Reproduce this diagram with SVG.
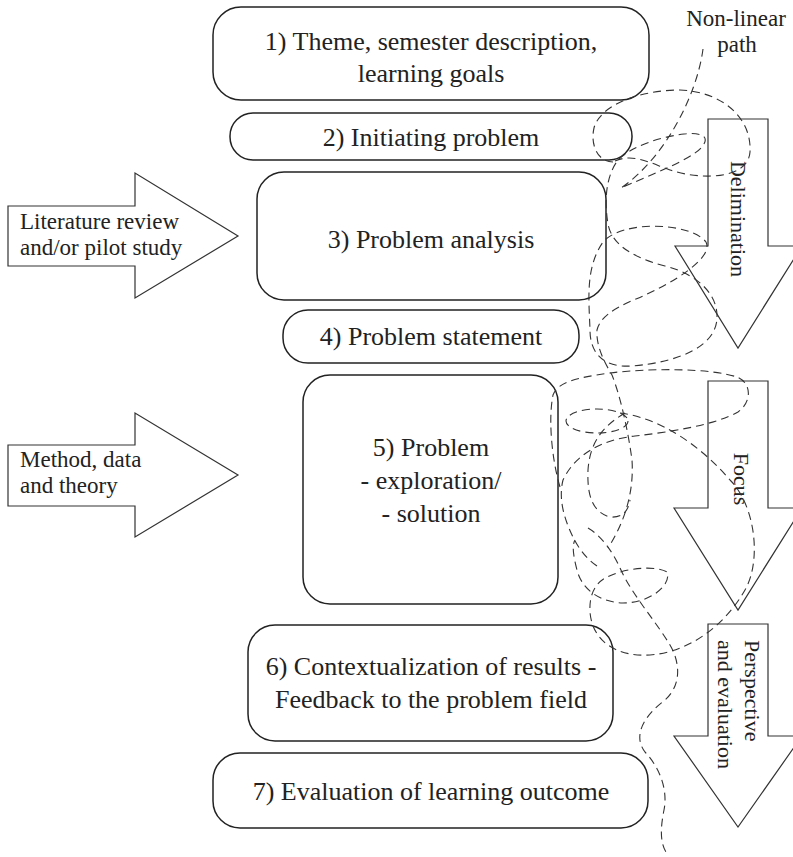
<svg xmlns="http://www.w3.org/2000/svg" width="793" height="857" viewBox="0 0 793 857">
<style>
.box{fill:#fff;stroke:#222;stroke-width:1.5}
.arr{fill:#fff;stroke:#333;stroke-width:1.2}
.t{font-family:"Liberation Serif","Times New Roman",serif;fill:#222}
.big{font-size:26px;text-anchor:middle}
.sm{font-size:23px}
.rot{font-size:22px}
.dash{fill:none;stroke:#333;stroke-width:1.1;stroke-dasharray:8 5}
</style>
<rect width="793" height="857" fill="#fff"/>
<g id="input-literature">
<path class="arr" d="M8,206 H135 V173 L238,236 L135,298 V266 H8 Z"/>
<text class="t sm" x="20" y="229">Literature review</text>
<text class="t sm" x="20" y="255">and/or pilot study</text>
</g>
<g id="input-method">
<path class="arr" d="M8,445 H135 V413 L238,475 L135,537 V506 H8 Z"/>
<text class="t sm" x="20" y="467">Method, data</text>
<text class="t sm" x="20" y="493">and theory</text>
</g>
<g id="arrow-delimination">
<path class="arr" d="M708,119 H768 V246 H802 L738,348 L675,246 H708 Z"/>
<text class="t rot" text-anchor="middle" transform="translate(731,219) rotate(90)">Delimination</text>
</g>
<g id="arrow-focus">
<path class="arr" d="M708,381 H768 V508 H802 L738,610 L674,508 H708 Z"/>
<text class="t rot" text-anchor="middle" transform="translate(734,479) rotate(90)">Focus</text>
</g>
<g id="arrow-perspective">
<path class="arr" d="M708,624 H768 V736 H802 L738,827 L674,736 H708 Z"/>
<text class="t rot" transform="translate(745,640) rotate(90)">Perspective</text>
<text class="t rot" transform="translate(718,640) rotate(90)">and evaluation</text>
</g>
<g id="node1">
<rect class="box" x="213" y="7" width="436" height="93" rx="28"/>
<text class="t big" x="431" y="50">1) Theme, semester description,</text>
<text class="t big" x="431" y="82">learning goals</text>
</g>
<g id="node2">
<rect class="box" x="230" y="113" width="402" height="47" rx="23"/>
<text class="t big" x="431" y="146">2) Initiating problem</text>
</g>
<g id="node3">
<rect class="box" x="257" y="172" width="349" height="128" rx="27"/>
<text class="t big" x="431" y="248">3) Problem analysis</text>
</g>
<g id="node4">
<rect class="box" x="283" y="310" width="296" height="53" rx="25"/>
<text class="t big" x="431" y="345">4) Problem statement</text>
</g>
<g id="node5">
<rect class="box" x="303" y="375" width="255" height="229" rx="27"/>
<text class="t big" x="431" y="456">5) Problem</text>
<text class="t big" x="431" y="489">- exploration/</text>
<text class="t big" x="431" y="522">- solution</text>
</g>
<g id="node6">
<rect class="box" x="248" y="625" width="365" height="116" rx="27"/>
<text class="t big" x="431" y="675">6) Contextualization of results -</text>
<text class="t big" x="431" y="708">Feedback to the problem field</text>
</g>
<g id="node7">
<rect class="box" x="213" y="753" width="435" height="75" rx="27"/>
<text class="t big" x="431" y="800">7) Evaluation of learning outcome</text>
</g>
<g id="nonlinear-label">
<text class="t sm" text-anchor="middle" x="736" y="26">Non-linear</text>
<text class="t sm" text-anchor="middle" x="737" y="52">path</text>
</g>
<g id="connectors">
<path class="dash" d="M703,49 C697,95 665,158 621,188 C648,176 690,160 701,148 C712,136 700,132 684,134 C660,137 632,146 618,160 C606,176 604,200 608,224 C612,246 635,258 665,266 C700,275 718,296 717,318 C716,346 680,362 632,366 C602,368 590,352 590,330 C589,300 585,268 603,242 C622,220 690,222 706,242 C714,258 672,284 636,299 C612,309 600,318 597,330 C596,345 603,360 612,375 C620,395 628,430 632,460 C634,490 626,520 608,548"/>
<path class="dash" d="M613,162 C598,162 590,145 594,128 C600,105 640,90 680,90 C725,92 752,120 750,152 C748,180 700,180 670,170 C650,163 632,152 613,162 Z"/>
<path class="dash" d="M560,487 C552,460 548,420 553,395 C558,382 575,378 610,373 C650,368 710,368 737,377 C752,383 752,402 738,412 C715,425 670,432 635,436 C600,440 575,455 563,480 C558,500 565,520 572,535 C580,552 590,562 600,568"/>
<ellipse class="dash" cx="597" cy="421" rx="31" ry="12"/>
<path class="dash" d="M625,413 C605,425 590,440 588,470 C587,495 592,512 610,517 C622,518 628,512 630,500"/>
<path class="dash" d="M620,413 C660,418 700,445 730,480 C755,505 762,560 745,590 C725,625 690,652 650,655 C615,657 592,640 590,612 C589,595 595,583 607,577 C625,568 655,565 667,572 C672,585 650,603 623,603 C600,602 582,590 577,570 C573,555 572,545 575,540"/>
<path class="dash" d="M588,528 C600,535 612,550 620,568 C632,595 655,620 670,645 C680,662 682,685 665,700 C645,715 632,735 645,752 C660,768 668,790 664,810 C660,830 660,845 668,855"/>
</g>
</svg>
